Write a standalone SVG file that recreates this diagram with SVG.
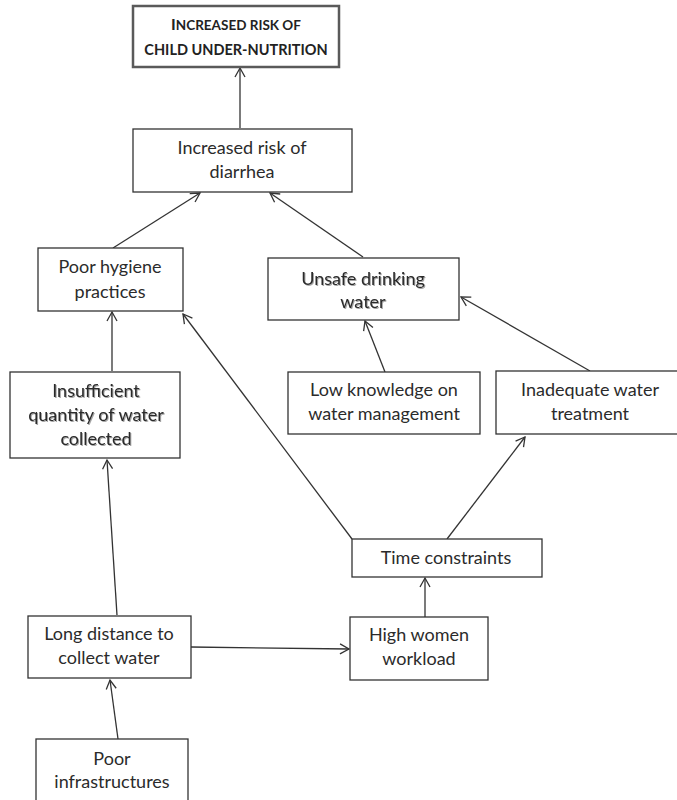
<svg xmlns="http://www.w3.org/2000/svg" width="677" height="800" viewBox="0 0 677 800">
  <style>
    .box { fill: #ffffff; stroke: #333333; stroke-width: 1.3; }
    .box-main { fill: #ffffff; stroke: #5a5a5a; stroke-width: 2.5; }
    .lbl { font-family: Lato, "Liberation Sans", sans-serif; font-size: 18px; fill: #2b2b2b; text-anchor: middle; }
    .ttl { font-family: Lato, "Liberation Sans", sans-serif; font-weight: bold; fill: #222222; text-anchor: middle; }
    .shadowed { filter: url(#soft-shadow); }
    .edge { fill: none; stroke: #333333; stroke-width: 1.3; marker-end: url(#open-arrow); }
  </style>
  <defs>
    <marker id="open-arrow" markerUnits="userSpaceOnUse" markerWidth="14" markerHeight="14" viewBox="-10 -7 12 14" refX="0" refY="0" orient="auto">
      <path d="M -9 -5 L 0 0 L -9 5" fill="none" stroke="#333333" stroke-width="1.3"/>
    </marker>
    <filter id="soft-shadow" x="-10%" y="-30%" width="120%" height="160%">
      <feDropShadow dx="1" dy="1" stdDeviation="0.7" flood-color="#000000" flood-opacity="0.35"/>
    </filter>
  </defs>

  <rect width="677" height="800" fill="#ffffff"/>

  <g id="connectors">
    <line class="edge" x1="240" y1="128" x2="240" y2="68"/>
    <line class="edge" x1="113" y1="248" x2="200" y2="193"/>
    <line class="edge" x1="363" y1="257" x2="270" y2="193"/>
    <line class="edge" x1="112" y1="371" x2="112" y2="312"/>
    <line class="edge" x1="352" y1="539" x2="183" y2="314"/>
    <line class="edge" x1="385" y1="372" x2="365" y2="321"/>
    <line class="edge" x1="590" y1="371" x2="461" y2="297"/>
    <line class="edge" x1="447" y1="539" x2="525" y2="437"/>
    <line class="edge" x1="425" y1="617" x2="425" y2="578"/>
    <line class="edge" x1="117" y1="615" x2="107" y2="460"/>
    <line class="edge" x1="191" y1="647" x2="349" y2="649"/>
    <line class="edge" x1="118" y1="739" x2="110" y2="680"/>
  </g>

  <g id="child-undernutrition">
    <rect class="box-main" x="133" y="6" width="206" height="61"/>
    <text class="ttl" x="236" y="30"><tspan font-size="16">I</tspan><tspan font-size="13.5">NCREASED RISK OF</tspan></text>
    <text class="ttl" x="236" y="55" font-size="14.5">CHILD UNDER-NUTRITION</text>
  </g>

  <g id="diarrhea">
    <rect class="box" x="133" y="129" width="219" height="63"/>
    <text class="lbl" x="242" y="154">Increased risk of</text>
    <text class="lbl" x="242" y="178">diarrhea</text>
  </g>

  <g id="poor-hygiene">
    <rect class="box" x="38" y="248" width="145" height="63"/>
    <text class="lbl" x="110" y="273">Poor hygiene</text>
    <text class="lbl" x="110" y="298">practices</text>
  </g>

  <g id="unsafe-water">
    <rect class="box" x="268" y="258" width="191" height="62"/>
    <text class="lbl shadowed" x="363" y="285">Unsafe drinking</text>
    <text class="lbl shadowed" x="363" y="308">water</text>
  </g>

  <g id="insufficient-water">
    <rect class="box" x="10" y="372" width="170" height="86"/>
    <text class="lbl shadowed" x="96" y="397">Insufficient</text>
    <text class="lbl shadowed" x="96" y="421">quantity of water</text>
    <text class="lbl shadowed" x="96" y="445">collected</text>
  </g>

  <g id="low-knowledge">
    <rect class="box" x="288" y="372" width="192" height="62"/>
    <text class="lbl" x="384" y="396">Low knowledge on</text>
    <text class="lbl" x="384" y="420">water management</text>
  </g>

  <g id="water-treatment">
    <rect class="box" x="496" y="371" width="190" height="63"/>
    <text class="lbl" x="590" y="396">Inadequate water</text>
    <text class="lbl" x="590" y="420">treatment</text>
  </g>

  <g id="time-constraints">
    <rect class="box" x="352" y="539" width="190" height="38"/>
    <text class="lbl" x="446" y="564">Time constraints</text>
  </g>

  <g id="women-workload">
    <rect class="box" x="350" y="617" width="138" height="63"/>
    <text class="lbl" x="419" y="641">High women</text>
    <text class="lbl" x="419" y="665">workload</text>
  </g>

  <g id="long-distance">
    <rect class="box" x="28" y="616" width="163" height="62"/>
    <text class="lbl" x="109" y="640">Long distance to</text>
    <text class="lbl" x="109" y="664">collect water</text>
  </g>

  <g id="poor-infrastructures">
    <rect class="box" x="36" y="739" width="152" height="70"/>
    <text class="lbl" x="112" y="765">Poor</text>
    <text class="lbl" x="112" y="788">infrastructures</text>
  </g>
</svg>
